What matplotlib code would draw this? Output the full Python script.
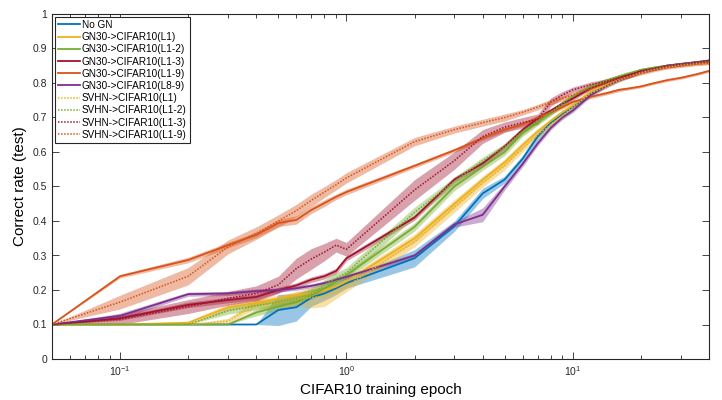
import numpy as np
from matplotlib import pyplot as plt
from matplotlib.ticker import LogLocator, NullFormatter, FixedLocator

plt.rcParams['font.family'] = ['Liberation Sans', 'DejaVu Sans']
plt.rcParams['mathtext.fontset'] = 'custom'
plt.rcParams['mathtext.rm'] = 'Liberation Sans'
plt.rcParams['mathtext.it'] = 'Liberation Sans'

# epochs at which the test accuracy was recorded
epoch = [0.05, 0.1, 0.2, 0.3, 0.4, 0.5, 0.6, 0.7, 0.8, 0.9, 1, 2, 3, 4, 5, 6, 7, 8, 9, 10,
         12, 14, 16, 18, 20, 23, 26, 30, 35, 40]

# mean correct rate per run
no_gn = [0.100, 0.100, 0.100, 0.100, 0.100, 0.142, 0.150, 0.178, 0.190, 0.205, 0.220, 0.292, 0.385, 0.480, 0.520,
         0.580, 0.645, 0.685, 0.710, 0.730, 0.770, 0.795, 0.810, 0.822, 0.832, 0.840, 0.848, 0.853, 0.858, 0.862]
gn_l1 = [0.100, 0.100, 0.105, 0.150, 0.163, 0.175, 0.185, 0.190, 0.200, 0.210, 0.225, 0.350, 0.450, 0.520, 0.570,
         0.620, 0.660, 0.690, 0.715, 0.735, 0.775, 0.795, 0.812, 0.822, 0.832, 0.842, 0.848, 0.853, 0.858, 0.860]
gn_l12 = [0.100, 0.100, 0.100, 0.100, 0.135, 0.152, 0.165, 0.185, 0.205, 0.225, 0.243, 0.383, 0.500, 0.557, 0.600,
          0.655, 0.685, 0.713, 0.740, 0.760, 0.790, 0.805, 0.818, 0.828, 0.838, 0.845, 0.850, 0.855, 0.860, 0.862]
gn_l13 = [0.100, 0.118, 0.157, 0.171, 0.180, 0.200, 0.213, 0.230, 0.240, 0.255, 0.292, 0.410, 0.520, 0.567, 0.616,
          0.664, 0.698, 0.720, 0.740, 0.755, 0.785, 0.800, 0.815, 0.825, 0.835, 0.842, 0.848, 0.853, 0.858, 0.860]
gn_l19 = [0.100, 0.240, 0.287, 0.330, 0.360, 0.394, 0.403, 0.432, 0.452, 0.470, 0.484, 0.560, 0.605, 0.640, 0.665,
          0.680, 0.700, 0.715, 0.730, 0.745, 0.760, 0.770, 0.780, 0.785, 0.790, 0.800, 0.808, 0.815, 0.825, 0.835]
gn_l89 = [0.100, 0.125, 0.188, 0.190, 0.197, 0.200, 0.205, 0.212, 0.220, 0.230, 0.238, 0.300, 0.390, 0.418, 0.500,
          0.565, 0.625, 0.670, 0.700, 0.720, 0.765, 0.790, 0.808, 0.820, 0.832, 0.842, 0.850, 0.855, 0.860, 0.865]
svhn_l1 = [0.100, 0.100, 0.100, 0.110, 0.160, 0.163, 0.175, 0.178, 0.182, 0.195, 0.210, 0.340, 0.440, 0.510, 0.560,
           0.610, 0.650, 0.680, 0.705, 0.730, 0.770, 0.790, 0.808, 0.820, 0.830, 0.840, 0.846, 0.852, 0.856, 0.858]
svhn_l12 = [0.100, 0.100, 0.100, 0.140, 0.155, 0.165, 0.175, 0.190, 0.215, 0.235, 0.250, 0.425, 0.515, 0.575, 0.615,
            0.660, 0.690, 0.715, 0.740, 0.762, 0.790, 0.808, 0.820, 0.830, 0.838, 0.845, 0.850, 0.855, 0.860, 0.862]
svhn_l13 = [0.100, 0.115, 0.152, 0.176, 0.190, 0.215, 0.262, 0.290, 0.310, 0.330, 0.318, 0.490, 0.575, 0.645, 0.672,
            0.685, 0.695, 0.745, 0.765, 0.780, 0.795, 0.805, 0.815, 0.822, 0.835, 0.842, 0.850, 0.855, 0.860, 0.865]
svhn_l19 = [0.100, 0.165, 0.240, 0.325, 0.365, 0.400, 0.430, 0.460, 0.484, 0.505, 0.525, 0.630, 0.665, 0.685, 0.700,
            0.715, 0.730, 0.745, 0.755, 0.765, 0.785, 0.800, 0.812, 0.820, 0.828, 0.838, 0.845, 0.850, 0.855, 0.858]

# spread (half width of shaded band)
no_gn_sd = [0, 0, 0, 0, 0, 0.045, 0.04, 0.025, 0.02, 0.018, 0.015, 0.025, 0.015, 0.015, 0.01,
            0.01, 0.012, 0.01, 0.01, 0.008, 0.008, 0.006, 0.005, 0.005, 0.005, 0.004, 0.004, 0.004, 0.004, 0.004]
gn_l1_sd = [0, 0, 0.005, 0.01, 0.01, 0.01, 0.01, 0.01, 0.01, 0.01, 0.01, 0.012, 0.012, 0.01, 0.01,
            0.01, 0.008, 0.008, 0.008, 0.006, 0.006, 0.005, 0.005, 0.005, 0.004, 0.004, 0.004, 0.004, 0.004, 0.004]
gn_l12_sd = [0, 0, 0, 0, 0.01, 0.012, 0.012, 0.012, 0.01, 0.01, 0.01, 0.012, 0.012, 0.01, 0.01,
             0.01, 0.008, 0.008, 0.008, 0.006, 0.006, 0.005, 0.005, 0.005, 0.004, 0.004, 0.004, 0.004, 0.004, 0.004]
gn_l13_sd = [0, 0.006, 0.008, 0.008, 0.008, 0.008, 0.008, 0.008, 0.008, 0.008, 0.008, 0.008, 0.008, 0.008, 0.008,
             0.008, 0.007, 0.006, 0.006, 0.006, 0.005, 0.005, 0.005, 0.004, 0.004, 0.004, 0.004, 0.004, 0.004, 0.004]
gn_l19_sd = [0, 0.005, 0.008, 0.008, 0.008, 0.01, 0.012, 0.01, 0.01, 0.008, 0.008, 0.006, 0.006, 0.006, 0.006,
             0.005, 0.005, 0.005, 0.005, 0.005, 0.005, 0.005, 0.005, 0.004, 0.004, 0.004, 0.004, 0.004, 0.004, 0.004]
gn_l89_sd = [0, 0.008, 0.006, 0.006, 0.006, 0.006, 0.006, 0.006, 0.006, 0.006, 0.006, 0.006, 0.008, 0.02, 0.01,
             0.008, 0.007, 0.006, 0.006, 0.006, 0.005, 0.005, 0.005, 0.004, 0.004, 0.004, 0.004, 0.004, 0.004, 0.004]
svhn_l1_sd = [0, 0, 0, 0.008, 0.012, 0.015, 0.02, 0.03, 0.03, 0.02, 0.015, 0.015, 0.015, 0.012, 0.012,
              0.01, 0.01, 0.008, 0.008, 0.008, 0.006, 0.005, 0.005, 0.005, 0.004, 0.004, 0.004, 0.004, 0.004, 0.004]
svhn_l12_sd = [0, 0, 0, 0.01, 0.012, 0.012, 0.012, 0.015, 0.015, 0.015, 0.015, 0.015, 0.012, 0.01, 0.01,
               0.01, 0.008, 0.008, 0.008, 0.006, 0.006, 0.005, 0.005, 0.005, 0.004, 0.004, 0.004, 0.004, 0.004, 0.004]
svhn_l13_sd = [0, 0.015, 0.02, 0.02, 0.022, 0.025, 0.03, 0.03, 0.025, 0.02, 0.02, 0.03, 0.025, 0.02, 0.015,
               0.015, 0.015, 0.012, 0.01, 0.008, 0.008, 0.007, 0.006, 0.006, 0.005, 0.005, 0.005, 0.005, 0.005, 0.005]
svhn_l19_sd = [0, 0.02, 0.025, 0.02, 0.018, 0.018, 0.018, 0.018, 0.016, 0.015, 0.015, 0.012, 0.01, 0.01, 0.01,
               0.008, 0.008, 0.008, 0.007, 0.007, 0.006, 0.006, 0.005, 0.005, 0.005, 0.005, 0.005, 0.005, 0.005, 0.005]

labels = ['No GN', 'GN30->CIFAR10(L1)', 'GN30->CIFAR10(L1-2)', 'GN30->CIFAR10(L1-3)',
          'GN30->CIFAR10(L1-9)', 'GN30->CIFAR10(L8-9)', 'SVHN->CIFAR10(L1)', 'SVHN->CIFAR10(L1-2)',
          'SVHN->CIFAR10(L1-3)', 'SVHN->CIFAR10(L1-9)']

blue, yellow, green, red, orange, purple = '#0072BD', '#EDB120', '#77AC30', '#A2142F', '#D95319', '#7E2F8E'

runs = [
    (no_gn, no_gn_sd, blue, '-'),
    (gn_l1, gn_l1_sd, yellow, '-'),
    (gn_l12, gn_l12_sd, green, '-'),
    (gn_l13, gn_l13_sd, red, '-'),
    (gn_l19, gn_l19_sd, orange, '-'),
    (gn_l89, gn_l89_sd, purple, '-'),
    (svhn_l1, svhn_l1_sd, yellow, ':'),
    (svhn_l12, svhn_l12_sd, green, ':'),
    (svhn_l13, svhn_l13_sd, red, ':'),
    (svhn_l19, svhn_l19_sd, orange, ':'),
]

fig = plt.figure(figsize=(7.22, 4.0), dpi=100)
ax = fig.add_axes([0.072, 0.1025, 0.91, 0.8625])

x = np.array(epoch)
for (mean, sd, color, ls), label in zip(runs, labels):
    m = np.array(mean)
    s = np.array(sd)
    ax.fill_between(x, m - s, m + s, color=color, alpha=0.4, lw=0)
    if ls == ':':
        ax.plot(x, m, color=color, lw=1.1, ls=(0, (1, 1)), label=label)
    else:
        ax.plot(x, m, color=color, lw=1.3, label=label)

ax.set_xscale('log')
ax.set_xlim(0.05, 40)
ax.set_ylim(0, 1)
ax.set_yticks(np.arange(0, 1.01, 0.1))
ax.set_yticklabels(['0', '0.1', '0.2', '0.3', '0.4', '0.5', '0.6', '0.7', '0.8', '0.9', '1'])
ax.xaxis.set_major_locator(FixedLocator([0.1, 1, 10]))
ax.set_xticklabels([r'$10^{-1}$', r'$10^{0}$', r'$10^{1}$'])
ax.xaxis.set_minor_locator(LogLocator(base=10, subs=np.arange(2, 10), numticks=10))
ax.xaxis.set_minor_formatter(NullFormatter())

ax.tick_params(which='both', direction='in', top=True, right=True, labelsize=7.5, width=0.6, colors='#262626')
ax.tick_params(which='major', length=5)
ax.tick_params(which='minor', length=3)
for sp in ax.spines.values():
    sp.set_linewidth(0.8)
    sp.set_color('#262626')

ax.set_xlabel('CIFAR10 training epoch', fontsize=11)
ax.set_ylabel('Correct rate (test)', fontsize=11)

leg = ax.legend(loc='upper left', fontsize=7.2, handlelength=2.2, handletextpad=0.2, labelspacing=0.22,
                borderpad=0.3, borderaxespad=0.3, fancybox=False, framealpha=1, edgecolor='#262626')
leg.get_frame().set_linewidth(0.8)

fig.savefig('out.png', dpi=100)
